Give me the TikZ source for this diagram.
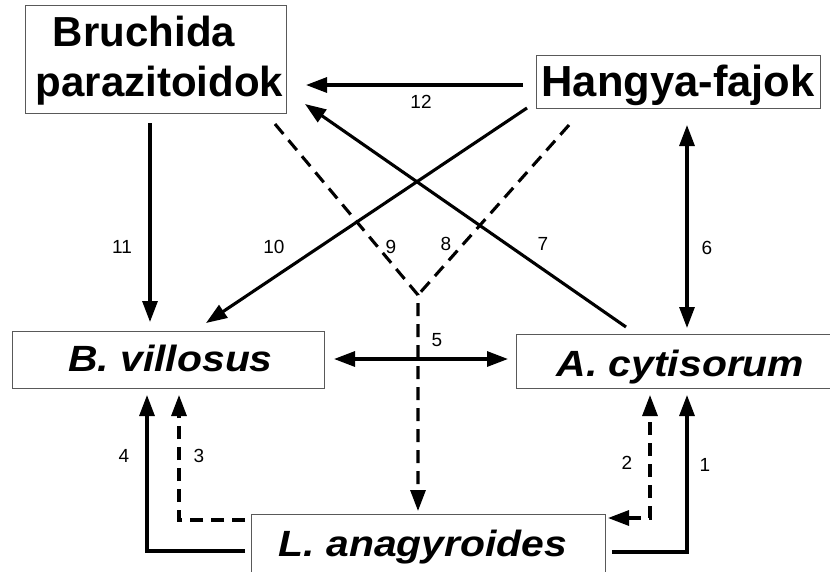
\documentclass[tikz,border=0pt]{standalone}
\usepackage{fontspec}
\setmainfont{Liberation Sans}
\newfontfamily\wideit[FakeStretch=1.12]{Liberation Sans}
\usetikzlibrary{arrows.meta}
\begin{document}
\begin{tikzpicture}[x=1pt,y=-1pt,
  box/.style={draw=black!65,line width=1pt,inner sep=0pt,font=\fontsize{42}{50}\selectfont\bfseries},
  hbox/.style={box,font=\fontsize{43.5}{50}\selectfont\bfseries},
  ibox/.style={box,font=\fontsize{36.5}{44}\wideit\bfseries\itshape},
  conn/.style={line width=3.1pt,-{Triangle[length=21pt,width=15pt]}},
  dconn/.style={conn,dash pattern=on 13pt off 8pt},
  both/.style={line width=3.1pt,{Triangle[length=21pt,width=15pt]}-{Triangle[length=21pt,width=15pt]}},
  dboth/.style={both,dash pattern=on 13pt off 8pt},
  plain/.style={line width=3.1pt},
  dplain/.style={plain,dash pattern=on 13pt off 8pt},
  num/.style={font=\fontsize{19}{22}\selectfont,inner sep=0pt}]
\clip (0,0) rectangle (830,571);
\fill[white] (0,0) rectangle (830,571);

% boxes
\node[box,minimum width=261pt,minimum height=108pt,text height=74pt,text depth=0pt,align=center] (bru) at (155.5,59)
  {Bruchida\hspace*{23pt}\mbox{}\\\mbox{}\hspace*{8pt}parazitoidok};
\node[hbox,minimum width=284pt,minimum height=53pt,text height=29pt,text depth=0pt] (hang) at (678,81.5) {Hangya-fajok};
\node[ibox,minimum width=312pt,minimum height=57pt,text height=23pt,text depth=0pt] (bv) at (168,359.5) {\mbox{}\hspace*{5pt}B. villosus};
\node[ibox,minimum width=329pt,minimum height=54pt,text height=30pt,text depth=0pt] (ac) at (680.5,361) {A. cytisorum};
\node[ibox,minimum width=354pt,minimum height=62pt,text height=22pt,text depth=0pt] (la) at (428,545) {L. anagyroides\hspace*{10pt}\mbox{}};

% free ends of connectors
\coordinate (s12) at (523,85);  \coordinate (e12) at (306,85);
\coordinate (s11) at (150,123); \coordinate (e11) at (150,322);
\coordinate (s10) at (527,108); \coordinate (e10) at (206,323);
\coordinate (s7)  at (626,327); \coordinate (e7)  at (305,104);
\coordinate (v)   at (418,295);
\coordinate (s9)  at (275,124); \coordinate (e9)  at (418,511);
\coordinate (s8)  at (569,125);
\coordinate (s5)  at (334,359); \coordinate (e5)  at (508,359);
\coordinate (s6)  at (687,125); \coordinate (e6)  at (687,328);
\coordinate (s4)  at (245,551); \coordinate (e4)  at (147,395);
\coordinate (s3)  at (245,520); \coordinate (e3)  at (179,395);
\coordinate (s2)  at (608,518); \coordinate (e2)  at (650,395);
\coordinate (s1)  at (612,552); \coordinate (e1)  at (687,395);

% connectors
\draw[conn] (s12) -- (e12);
\draw[conn] (s11) -- (e11);
\draw[conn] (s10) -- (e10);
\draw[conn] (s7) -- (e7);
\draw[dconn] (s9) -- (v) -- (e9);
\draw[dplain] (s8) -- (v);
\draw[both] (s5) -- (e5);
\draw[both] (s6) -- (e6);
\draw[conn] (s4) -| (e4);
\draw[dconn] (s3) -| (e3);
\draw[dboth] (s2) -| (e2);
\draw[conn] (s1) -| (e1);

% labels
\node[num] (n12) at (421,102) {12};
\node[num] (n11) at (122,247) {11};
\node[num] (n10) at (274,247) {10};
\node[num] (n9)  at (391,247) {9};
\node[num] (n8)  at (446,244) {8};
\node[num] (n7)  at (543,244) {7};
\node[num] (n6)  at (707,248) {6};
\node[num] (n5)  at (437,340) {5};
\node[num] (n4)  at (124,456) {4};
\node[num] (n3)  at (199,456) {3};
\node[num] (n2)  at (627,463) {2};
\node[num] (n1)  at (705,465) {1};
\end{tikzpicture}
\end{document}
